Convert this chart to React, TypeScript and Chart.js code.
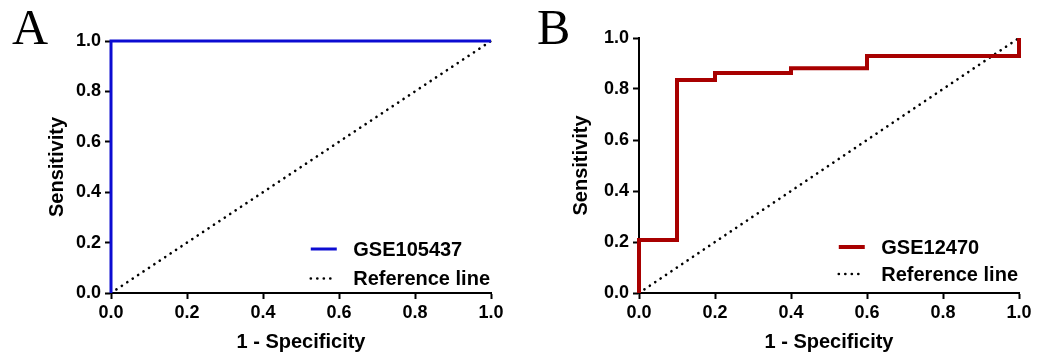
import React, { useEffect, useRef } from "react";
import { Chart, registerables } from "chart.js";

Chart.register(...registerables);

// ---- Data ----
const panelA_label = "GSE105437";
const panelA_fpr = [0, 0, 1.0];
const panelA_tpr = [0, 1.0, 1.0];

const panelB_label = "GSE12470";
const panelB_fpr = [0, 0, 0.1, 0.2, 0.4, 0.6, 1.0];
const panelB_tpr = [0, 0.208, 0.835, 0.863, 0.881, 0.929, 1.0];

const refLabel = "Reference line";
const ref_x = [0, 1];
const ref_y = [0, 1];

const tickValues = [0, 0.2, 0.4, 0.6, 0.8, 1.0];
const xTitle = "1 - Specificity";
const yTitle = "Sensitivity";

const FONT = '"Liberation Sans", Arial, Helvetica, sans-serif';

const insideLegend = {
  id: "insideLegend",
  afterDatasetsDraw(chart: any, _args: any, opts: any) {
    const { ctx, chartArea } = chart;
    ctx.save();
    ctx.font = `bold 20px ${FONT}`;
    const items = chart.data.datasets.map((ds: any) => ({
      label: ds.label,
      color: ds.borderColor,
      width: ds.borderWidth,
      dash: ds.borderDash || [],
      cap: ds.borderCapStyle || "butt",
    }));
    const maxW = Math.max(...items.map((it: any) => ctx.measureText(it.label).width));
    const textX = chartArea.right - opts.rightInset - maxW;
    items.forEach((it: any, i: number) => {
      const y = chartArea.bottom - opts.rowOffsets[i];
      ctx.strokeStyle = it.color;
      ctx.lineWidth = it.width;
      ctx.lineCap = it.cap;
      ctx.setLineDash(it.dash);
      ctx.beginPath();
      ctx.moveTo(textX - opts.gap - opts.sampleLen, y);
      ctx.lineTo(textX - opts.gap, y);
      ctx.stroke();
      ctx.setLineDash([]);
      ctx.fillStyle = "#000";
      ctx.textAlign = "left";
      ctx.textBaseline = "middle";
      ctx.fillText(it.label, textX, y + 1);
    });
    ctx.restore();
  },
};

function makeConfig(
  label: string,
  fpr: number[],
  tpr: number[],
  color: string,
  width: number,
  yScaleWidth: number,
  padTop: number,
  padRight: number,
  rowOffsets: number[]
): any {
  return {
    type: "scatter",
    data: {
      datasets: [
        {
          label,
          data: fpr.map((x, i) => ({ x, y: tpr[i] })),
          showLine: true,
          stepped: "before",
          borderColor: color,
          backgroundColor: color,
          borderWidth: width,
          pointRadius: 0,
          clip: false,
        },
        {
          label: refLabel,
          data: ref_x.map((x, i) => ({ x, y: ref_y[i] })),
          showLine: true,
          borderColor: "#000",
          backgroundColor: "#000",
          borderWidth: 2.6,
          borderCapStyle: "round",
          borderDash: [0.1, 6.4],
          pointRadius: 0,
          clip: false,
        },
      ],
    },
    options: {
      responsive: false,
      animation: false,
      devicePixelRatio: 1,
      layout: { padding: { top: padTop, right: padRight, bottom: 0, left: 0 } },
      plugins: {
        legend: { display: false },
        tooltip: { enabled: false },
        insideLegend: { rightInset: 1, gap: 16.5, sampleLen: 26, rowOffsets },
      },
      scales: {
        x: {
          type: "linear",
          min: 0,
          max: 1,
          afterBuildTicks: (s: any) => {
            s.ticks = tickValues.map((v) => ({ value: v }));
          },
          afterFit: (s: any) => {
            s.height = 65;
          },
          ticks: {
            color: "#000",
            font: { family: FONT, size: 18, weight: "bold" },
            padding: 3,
            maxRotation: 0,
            callback: (v: any) => Number(v).toFixed(1),
          },
          grid: {
            display: true,
            drawOnChartArea: false,
            drawTicks: true,
            tickLength: 6,
            tickWidth: 2,
            tickColor: "#000",
          },
          border: { display: true, color: "#000", width: 2 },
          title: {
            display: true,
            text: xTitle,
            color: "#000",
            font: { family: FONT, size: 20, weight: "bold" },
            padding: { top: 0, bottom: 4 },
          },
        },
        y: {
          type: "linear",
          min: 0,
          max: 1,
          afterBuildTicks: (s: any) => {
            s.ticks = tickValues.map((v) => ({ value: v }));
          },
          afterFit: (s: any) => {
            s.width = yScaleWidth;
          },
          ticks: {
            color: "#000",
            font: { family: FONT, size: 18, weight: "bold" },
            padding: 4,
            callback: (v: any) => Number(v).toFixed(1),
          },
          grid: {
            display: true,
            drawOnChartArea: false,
            drawTicks: true,
            tickLength: 6,
            tickWidth: 2,
            tickColor: "#000",
          },
          border: { display: true, color: "#000", width: 2 },
          title: {
            display: true,
            text: yTitle,
            color: "#000",
            font: { family: FONT, size: 20, weight: "bold" },
            padding: { top: 45, bottom: 0 },
          },
        },
      },
    },
    plugins: [insideLegend],
  };
}

function Panel(props: { config: any; left: number; letter: string; letterLeft: number }) {
  const ref = useRef<HTMLCanvasElement | null>(null);
  useEffect(() => {
    if (!ref.current) return;
    const chart = new Chart(ref.current, props.config);
    return () => chart.destroy();
  }, []);
  return (
    <div style={{ position: "absolute", left: props.left, top: 0, width: 524, height: 358 }}>
      <canvas ref={ref} width={524} height={358} style={{ display: "block" }} />
      <div
        style={{
          position: "absolute",
          left: props.letterLeft,
          top: 2,
          fontFamily: '"Liberation Serif", "Times New Roman", serif',
          fontSize: 50,
          lineHeight: "50px",
          color: "#000",
        }}
      >
        {props.letter}
      </div>
    </div>
  );
}

export default function App() {
  const cfgA = makeConfig(panelA_label, panelA_fpr, panelA_tpr, "#0c0cd2", 3, 111, 41, 33, [44, 14.5]);
  const cfgB = makeConfig(panelB_label, panelB_fpr, panelB_tpr, "#a80000", 4, 115, 38, 29, [46, 19]);
  return (
    <div
      style={{
        position: "fixed",
        left: 0,
        top: 0,
        width: 1048,
        height: 358,
        background: "#fff",
        overflow: "hidden",
      }}
    >
      <Panel config={cfgA} left={0} letter="A" letterLeft={12} />
      <Panel config={cfgB} left={524} letter="B" letterLeft={13} />
    </div>
  );
}
